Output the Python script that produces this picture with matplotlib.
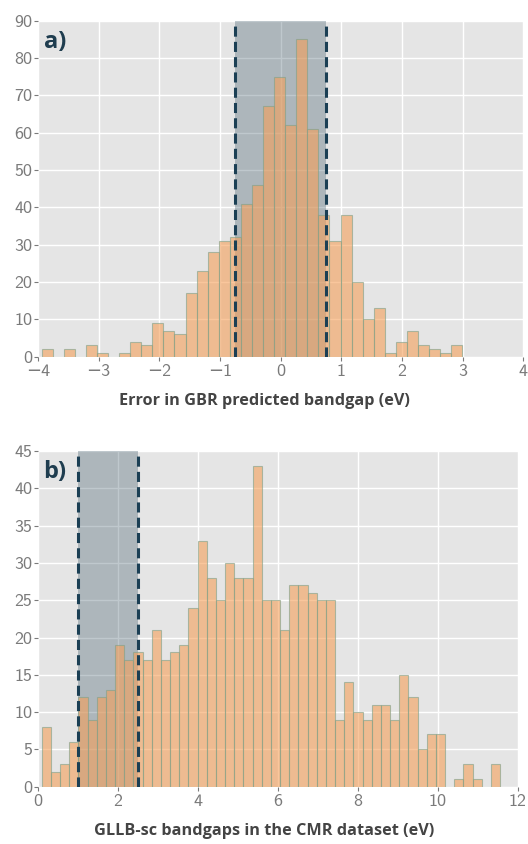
"""
plot.py
-------
Two stacked histograms: GBR bandgap prediction error and the GLLB-sc
bandgap distribution of the CMR dataset, each with a shaded window.
"""

import numpy as np
import matplotlib
matplotlib.use("Agg")
import matplotlib.pyplot as plt
from matplotlib.transforms import blended_transform_factory

# ---- panel a) : error in GBR predicted bandgap ----
err_range = (-3.94, 2.995)
err_counts = [2, 0, 2, 0, 3, 1, 0, 1, 4, 3, 9, 7, 6, 17, 23, 28, 31, 32, 41,
              46, 67, 75, 62, 85, 61, 38, 31, 38, 20, 10, 13, 1, 4, 7, 3, 2,
              1, 3]
err_window = (-0.75, 0.75)
err_xticks = [-4, -3, -2, -1, 0, 1, 2, 3, 4]
err_yticks = [0, 10, 20, 30, 40, 50, 60, 70, 80, 90]

# ---- panel b) : GLLB-sc bandgaps in CMR ----
gap_range = (0.10, 11.56)
gap_counts = [8, 2, 3, 6, 12, 9, 12, 13, 19, 17, 18, 17, 21, 17, 18, 19, 24,
              33, 28, 25, 30, 28, 28, 43, 25, 25, 21, 27, 27, 26, 25, 25, 9,
              14, 10, 9, 11, 11, 9, 15, 12, 5, 7, 7, 0, 1, 3, 1, 0, 3]
gap_window = (1.0, 2.5)
gap_xticks = [0, 2, 4, 6, 8, 10, 12]
gap_yticks = [0, 5, 10, 15, 20, 25, 30, 35, 40, 45]

BAR_COLOR = "#F5A05A"
EDGE_COLOR = "#7FA088"
SPAN_COLOR = "#2C4A5A"
LINE_COLOR = "#1B3F54"
TICK_COLOR = "#7A7A7A"
LABEL_COLOR = "#444444"

# computer-modern sans for the numbers, minus sign falls back to DejaVu
plt.rcParams["font.family"] = ["cmss10", "DejaVu Sans"]
label_font = ["Open Sans", "DejaVu Sans"]


def draw_panel(fig, ax, value_range, counts, window, xticks, yticks,
               xlabel, tag):
    """Histogram with a shaded, dashed-bordered window."""
    edges = np.linspace(value_range[0], value_range[1], len(counts) + 1)
    centers = 0.5 * (edges[:-1] + edges[1:])

    ax.set_facecolor("#E5E5E5")
    ax.grid(True, color="white", linewidth=1.0)
    ax.set_axisbelow(True)
    for side in ax.spines.values():
        side.set_visible(False)

    # shaded window behind the bars
    ax.axvspan(window[0], window[1], color=SPAN_COLOR, alpha=0.3,
               linewidth=0, zorder=1)
    ax.hist(centers, bins=edges, weights=counts, color=BAR_COLOR,
            edgecolor=EDGE_COLOR, linewidth=0.8, alpha=0.6, zorder=2)
    for x in window:
        ax.axvline(x, color=LINE_COLOR, linewidth=2.2, dashes=(3.3, 1.7),
                   zorder=3)

    ax.set_xlim(xticks[0], xticks[-1])
    ax.set_ylim(yticks[0], yticks[-1])
    ax.set_xticks(xticks)
    ax.set_yticks(yticks)
    ax.tick_params(colors=TICK_COLOR, labelsize=13, length=3, width=0.8,
                   pad=1)
    ax.tick_params(axis="x", pad=2.5)

    # label centred on the figure rather than on the axes
    ax.set_xlabel(xlabel, fontsize=11.7, fontweight="bold",
                  color=LABEL_COLOR, family=label_font)
    trans = blended_transform_factory(fig.transFigure, ax.transAxes)
    ax.xaxis.set_label_coords(0.5, -0.108, transform=trans)

    ax.text(0.012, 0.972, tag, transform=ax.transAxes, ha="left", va="top",
            fontsize=17, fontweight="bold", color="#1F3D4F",
            family=label_font, zorder=4)


fig = plt.figure(figsize=(5.28, 8.44), dpi=100)
ax_a = fig.add_axes([0.072, 0.5774, 0.919, 0.3983])
ax_b = fig.add_axes([0.0714, 0.0679, 0.909, 0.3977])

draw_panel(fig, ax_a, err_range, err_counts, err_window, err_xticks,
           err_yticks, "Error in GBR predicted bandgap (eV)", "a)")
draw_panel(fig, ax_b, gap_range, gap_counts, gap_window, gap_xticks,
           gap_yticks, "GLLB-sc bandgaps in the CMR dataset (eV)", "b)")

fig.savefig("out.png", dpi=100)
plt.close(fig)
